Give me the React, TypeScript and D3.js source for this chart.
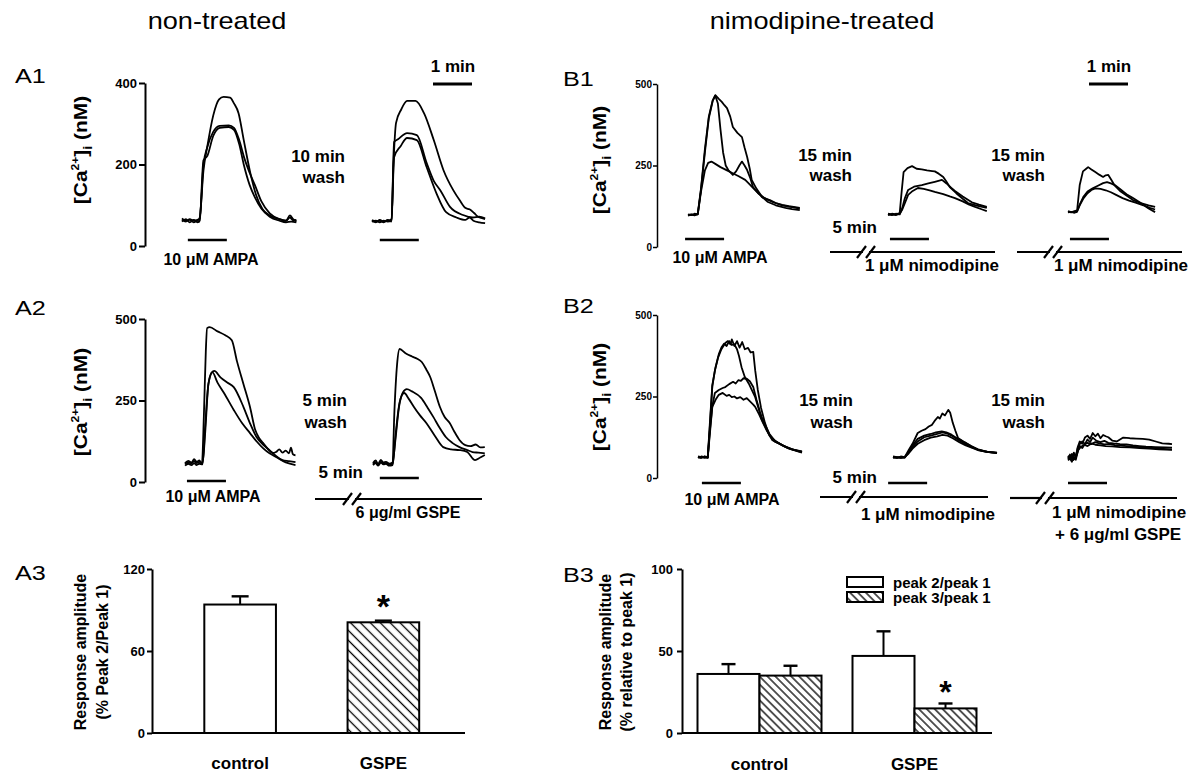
import React, { useEffect, useRef } from "react";
import * as d3 from "d3";

type Pt = [number, number];

// ---------- trace data: [seconds from segment start, [Ca2+]i nM] ----------
const a1Seg1: Pt[][] = [
  [[0,65],[6,60],[12,66],[18,62],[24,64],[27,68],[33,185],[39,245],[48,320],[57,360],[64,366],[74,364],[80,350],[87,326],[95,260],[105,180],[114,125],[124,90],[135,75],[150,66],[160,62],[166,70],[171,63],[176,64]],
  [[0,60],[6,66],[12,58],[18,64],[24,58],[27,62],[33,200],[39,243],[48,280],[58,295],[72,296],[80,290],[88,260],[96,215],[104,180],[112,150],[122,110],[135,80],[150,66],[160,62],[166,75],[171,66],[176,60]],
  [[0,68],[6,62],[12,64],[18,58],[24,62],[27,60],[33,210],[39,221],[48,270],[58,290],[72,292],[80,285],[88,250],[95,200],[104,150],[112,120],[122,92],[135,72],[150,62],[160,58],[168,60],[176,58]],
];
const a1Seg2: Pt[][] = [
  [[0,62],[6,58],[12,64],[18,60],[24,62],[30,66],[33,200],[37,302],[45,335],[54,356],[67,356],[80,326],[95,260],[110,186],[125,137],[135,112],[144,93],[150,90],[157,81],[163,72],[168,69],[174,66]],
  [[0,60],[6,62],[12,58],[18,62],[24,60],[30,62],[34,255],[40,262],[54,277],[69,272],[84,204],[95,160],[105,137],[120,96],[140,76],[155,70],[165,72],[174,68]],
  [[0,64],[6,60],[12,62],[18,58],[24,64],[30,60],[34,218],[44,245],[54,265],[69,260],[84,194],[99,130],[114,83],[130,70],[144,64],[150,70],[156,62],[165,58],[174,56]],
];
const a2Seg1: Pt[][] = [
  [[0,58],[5,65],[10,60],[14,70],[18,62],[22,66],[26,55],[29,200],[32,400],[34,472],[38,475],[50,462],[62,450],[72,435],[80,370],[90,300],[100,230],[108,160],[114,135],[120,120],[128,100],[135,89],[140,92],[145,100],[150,90],[155,96],[160,88],[163,105],[166,85],[170,82]],
  [[0,55],[5,60],[10,58],[14,64],[18,58],[22,62],[27,58],[31,150],[36,300],[41,335],[45,341],[55,320],[65,305],[75,291],[90,230],[100,180],[110,138],[120,115],[130,98],[140,80],[150,67],[160,64],[170,61]],
  [[0,50],[5,56],[10,52],[14,58],[18,52],[22,56],[27,54],[31,170],[36,300],[42,337],[50,305],[60,273],[75,221],[88,180],[100,150],[110,125],[120,104],[130,88],[140,77],[155,60],[170,52]],
];
const a2Seg2: Pt[][] = [
  [[0,58],[4,66],[8,55],[12,68],[16,60],[20,62],[25,56],[30,60],[33,220],[37,360],[41,408],[50,395],[60,385],[68,378],[75,368],[82,345],[88,322],[95,280],[103,230],[110,200],[118,181],[125,155],[133,129],[142,113],[150,110],[158,115],[165,106],[172,107]],
  [[0,55],[4,60],[8,52],[12,62],[16,56],[20,58],[25,52],[30,55],[34,120],[40,230],[46,275],[52,285],[60,278],[74,258],[84,228],[93,199],[102,168],[112,138],[122,120],[133,107],[145,98],[153,92],[162,90],[172,88]],
  [[0,52],[4,58],[8,50],[12,60],[16,54],[20,56],[25,50],[30,52],[35,150],[41,245],[48,273],[55,255],[63,230],[72,205],[82,181],[95,142],[108,107],[120,100],[133,98],[145,92],[157,67],[165,75],[172,83]],
];
const b1Seg1: Pt[][] = [
  [[0,98],[5,100],[10,97],[15,102],[20,180],[26,300],[32,400],[38,450],[42,466],[47,455],[52,445],[56,435],[60,426],[65,400],[69,368],[76,350],[83,337],[87,305],[91,276],[95,240],[98,206],[105,180],[114,153],[120,148],[126,144],[135,135],[145,129],[155,125],[165,122],[172,120]],
  [[0,100],[5,98],[10,102],[15,100],[20,175],[26,290],[32,395],[38,448],[42,464],[46,440],[50,360],[54,290],[58,250],[62,236],[69,221],[74,232],[79,250],[83,262],[87,250],[91,236],[96,210],[100,184],[108,165],[118,150],[130,138],[145,128],[160,122],[172,118]],
  [[0,96],[5,99],[10,98],[15,100],[20,170],[26,235],[31,258],[36,262],[42,255],[50,245],[60,235],[68,227],[78,217],[88,206],[96,190],[103,175],[113,155],[123,138],[135,128],[150,120],[160,116],[172,113]],
];
const b1Seg2: Pt[][] = [
  [[0,98],[6,102],[12,100],[18,104],[21,170],[24,230],[30,242],[37,248],[44,240],[52,238],[60,235],[68,233],[72,232],[78,225],[85,215],[90,200],[95,184],[105,165],[115,148],[123,135],[135,128],[145,123],[152,120]],
  [[0,100],[6,98],[12,102],[18,100],[22,120],[26,150],[31,175],[40,185],[52,190],[62,195],[72,200],[83,206],[90,195],[97,182],[103,172],[115,155],[129,137],[140,130],[152,123]],
  [[0,102],[6,100],[12,98],[18,102],[22,115],[27,140],[31,160],[38,172],[46,181],[55,178],[64,174],[72,169],[85,162],[95,155],[103,150],[115,140],[125,130],[134,123],[145,115],[152,110]],
];
const b1Seg3: Pt[][] = [
  [[0,108],[5,106],[10,110],[14,112],[18,190],[23,232],[28,240],[31,245],[36,238],[42,230],[48,222],[54,215],[58,220],[62,221],[67,205],[72,188],[80,172],[90,158],[100,144],[112,135],[124,128],[134,123]],
  [[0,106],[5,108],[10,105],[14,108],[18,130],[24,155],[30,170],[38,180],[46,188],[54,196],[60,199],[66,195],[72,190],[80,178],[90,162],[100,150],[112,135],[124,118],[134,107]],
  [[0,110],[5,107],[10,108],[14,110],[18,128],[24,150],[30,165],[36,175],[42,180],[50,178],[58,174],[66,168],[74,160],[84,150],[94,142],[104,136],[116,128],[126,120],[134,115]],
];
const b2Seg1: Pt[][] = [
  [[0,64],[5,62],[10,66],[15,62],[18,150],[22,280],[26,330],[31,370],[36,395],[42,414],[46,420],[50,410],[52,425],[56,405],[60,420],[64,400],[68,417],[72,395],[77,399],[81,385],[85,387],[88,330],[92,270],[97,215],[103,169],[108,140],[114,117],[120,110],[128,103],[138,92],[148,86],[155,82],[160,80]],
  [[0,66],[5,64],[10,62],[15,64],[18,160],[22,285],[27,340],[32,380],[36,400],[40,412],[44,405],[48,420],[52,408],[56,410],[60,395],[63,375],[67,340],[72,310],[78,290],[84,265],[88,248],[93,215],[98,180],[103,160],[110,130],[118,112],[130,100],[140,90],[150,84],[160,78]],
  [[0,62],[5,66],[10,64],[15,62],[18,140],[22,220],[26,261],[32,270],[38,276],[42,279],[48,288],[54,295],[58,290],[62,300],[66,298],[70,306],[75,305],[80,296],[85,279],[90,240],[95,205],[98,187],[104,160],[110,135],[118,115],[130,100],[145,88],[160,80]],
  [[0,64],[5,62],[10,66],[15,64],[18,130],[22,218],[27,240],[32,255],[38,261],[44,252],[48,255],[52,248],[56,250],[60,244],[65,248],[70,240],[75,245],[80,235],[85,225],[88,218],[94,195],[100,169],[106,145],[112,125],[120,112],[132,98],[145,88],[160,82]],
];
const b2Seg2: Pt[][] = [
  [[0,64],[6,62],[12,66],[18,64],[24,85],[30,105],[38,138],[44,145],[50,150],[55,158],[60,163],[64,175],[69,187],[72,182],[76,198],[80,192],[85,209],[88,200],[92,169],[96,145],[100,123],[110,110],[120,98],[131,86],[140,82],[150,79],[160,77]],
  [[0,62],[6,64],[12,62],[18,64],[24,80],[30,100],[38,120],[48,130],[58,135],[66,140],[75,143],[82,140],[90,133],[100,120],[111,108],[120,98],[131,88],[145,80],[160,77]],
  [[0,64],[6,62],[12,64],[18,62],[24,78],[30,95],[38,112],[48,125],[58,130],[68,135],[76,140],[84,136],[92,128],[102,115],[112,104],[122,94],[132,86],[145,80],[160,76]],
  [[0,66],[6,64],[12,62],[18,64],[24,75],[30,90],[38,105],[48,116],[58,124],[68,128],[76,132],[84,130],[92,122],[102,110],[112,100],[122,92],[132,85],[145,80],[160,78]],
];
const b2Seg3: Pt[][] = [
  [[0,60],[3,72],[6,56],[9,78],[12,62],[15,95],[18,112],[22,105],[26,124],[30,130],[34,120],[38,138],[42,128],[46,136],[50,122],[54,132],[58,128],[62,125],[68,115],[75,112],[85,124],[95,122],[105,121],[115,120],[125,118],[135,112],[145,106],[155,105],[160,104]],
  [[0,68],[3,60],[6,74],[9,58],[12,68],[15,92],[18,104],[22,112],[26,104],[30,118],[34,110],[38,124],[44,114],[50,110],[56,114],[62,108],[70,106],[80,104],[90,103],[100,100],[110,98],[120,96],[135,95],[150,94],[160,93]],
  [[0,54],[3,60],[6,50],[9,64],[12,56],[15,82],[18,98],[22,92],[26,104],[30,108],[36,104],[42,110],[48,106],[56,103],[64,105],[72,101],[82,99],[95,97],[110,95],[125,93],[140,90],[160,88]],
  [[0,58],[4,66],[8,55],[12,62],[16,86],[20,96],[25,102],[30,98],[36,106],[42,102],[50,100],[58,98],[68,97],[80,95],[95,94],[110,92],[125,90],[140,88],[160,86]],
];

// AMPA application onset (s from segment start), 1 min each
const a1Ampa = [9, 12];
const a2Ampa = [3, 10.5];
const b1Ampa = [-4.5, 3, 3];
const b2Ampa = [6, -7.5, 0];

// ---------- bar chart data ----------
const a3Groups = ["control", "GSPE"];
const a3Mean = [94, 81];
const a3Sem = [6, 1.2];

const b3Groups = ["control", "GSPE"];
const b3Series = ["peak 2/peak 1", "peak 3/peak 1"];
const b3Peak2 = [36, 47];
const b3Peak2Sem = [6, 15];
const b3Peak3 = [35, 15];
const b3Peak3Sem = [6, 3];

const PX_PER_MIN = 39;
const FONT = "'Liberation Sans', Arial, Helvetica, sans-serif";

type Sel = d3.Selection<any, unknown, null, undefined>;

function addText(g: Sel, x: number, y: number, str: string, size: number, opts: any = {}) {
  const sx = opts.sx ?? 1;
  const rot = opts.rotate ? ` rotate(${opts.rotate})` : "";
  return g.append("text")
    .attr("transform", `translate(${x},${y})${rot} scale(${sx},1)`)
    .attr("text-anchor", opts.anchor ?? "start")
    .attr("font-size", size)
    .attr("font-weight", opts.weight ?? "bold")
    .attr("fill", "#000")
    .text(str);
}

function caLabel(g: Sel, x: number, y: number) {
  const t = g.append("text")
    .attr("transform", `translate(${x},${y}) rotate(-90) scale(1.1,1)`)
    .attr("text-anchor", "middle")
    .attr("font-size", 19)
    .attr("font-weight", "bold");
  t.append("tspan").text("[Ca");
  t.append("tspan").attr("font-size", 11).attr("dy", -8).text("2+");
  t.append("tspan").attr("dy", 8).text("]");
  t.append("tspan").attr("font-size", 13).attr("dy", 5).text("i");
  t.append("tspan").attr("dy", -5).text(" (nM)");
}

// pre-incubation line with a "//" break
function breakLine(g: Sel, x0: number, x1: number, xb: number, y: number) {
  const s = g.append("g").attr("stroke", "#000").attr("stroke-width", 2.2).attr("fill", "none");
  s.append("line").attr("x1", x0).attr("x2", xb + 2).attr("y1", y).attr("y2", y);
  s.append("line").attr("x1", xb + 8).attr("x2", x1).attr("y1", y).attr("y2", y);
  [0, 9].forEach((o) => {
    s.append("line").attr("x1", xb + o - 4).attr("y1", y + 6).attr("x2", xb + o + 5).attr("y2", y - 6);
  });
}

interface Seg { x: number; traces: Pt[][]; ampa: number; barY: number; }
interface TracePanel {
  axisX: number; yZero: number; yTop: number; yMax: number; ticks: number[];
  tickFont: number; tickSize: number; tickPad: number; axisW: number;
  curve: d3.CurveFactory; segs: Seg[];
}

function drawTracePanel(svg: Sel, p: TracePanel) {
  const g = svg.append("g");
  const y = d3.scaleLinear().domain([0, p.yMax]).range([p.yZero, p.yTop]);
  const ax = g.append("g")
    .attr("transform", `translate(${p.axisX},0)`)
    .call(d3.axisLeft(y).tickValues(p.ticks).tickSize(p.tickSize).tickSizeOuter(0).tickPadding(p.tickPad).tickFormat(d3.format("d")));
  ax.select(".domain").attr("stroke-width", p.axisW);
  ax.selectAll(".tick line").attr("stroke-width", p.axisW);
  ax.selectAll("text").attr("font-size", p.tickFont).attr("font-weight", "bold").attr("font-family", FONT);

  p.segs.forEach((s) => {
    const x = d3.scaleLinear().domain([0, 60]).range([s.x, s.x + PX_PER_MIN]);
    const line = d3.line<Pt>().x((d) => x(d[0])).y((d) => y(d[1])).curve(p.curve);
    g.append("g").selectAll("path").data(s.traces).join("path")
      .attr("d", (d) => line(d))
      .attr("fill", "none").attr("stroke", "#000").attr("stroke-width", 1.8)
      .attr("stroke-linejoin", "round");
    g.append("line")
      .attr("x1", x(s.ampa)).attr("x2", x(s.ampa + 60))
      .attr("y1", s.barY).attr("y2", s.barY)
      .attr("stroke", "#000").attr("stroke-width", 2.6);
  });
}

function errBar(g: Sel, cx: number, yTop: number, yErr: number, half: number) {
  g.append("line").attr("x1", cx).attr("x2", cx).attr("y1", yTop).attr("y2", yErr).attr("stroke", "#000").attr("stroke-width", 2);
  g.append("line").attr("x1", cx - half).attr("x2", cx + half).attr("y1", yErr).attr("y2", yErr).attr("stroke", "#000").attr("stroke-width", 2.4);
}

export default function App() {
  const ref = useRef<SVGSVGElement>(null);

  useEffect(() => {
    const svg = d3.select(ref.current) as unknown as Sel;
    svg.selectAll("*").remove();
    svg.attr("font-family", FONT);

    // hatch patterns
    const defs = svg.append("defs");
    [["hatchA", 7], ["hatchB", 5.6]].forEach(([id, w]) => {
      const pat = defs.append("pattern").attr("id", id as string)
        .attr("patternUnits", "userSpaceOnUse")
        .attr("width", w as number).attr("height", w as number)
        .attr("patternTransform", "rotate(-45)");
      pat.append("rect").attr("width", w as number).attr("height", w as number).attr("fill", "#fff");
      pat.append("line").attr("x1", (w as number) / 2).attr("x2", (w as number) / 2)
        .attr("y1", 0).attr("y2", w as number).attr("stroke", "#000").attr("stroke-width", 1.3);
    });

    // titles and panel letters
    addText(svg, 217, 29, "non-treated", 23, { anchor: "middle", weight: "normal", sx: 1.18 });
    addText(svg, 822, 29, "nimodipine-treated", 23, { anchor: "middle", weight: "normal", sx: 1.18 });
    addText(svg, 15, 83, "A1", 21, { weight: "normal", sx: 1.2 });
    addText(svg, 15, 315, "A2", 21, { weight: "normal", sx: 1.2 });
    addText(svg, 15, 580, "A3", 21, { weight: "normal", sx: 1.2 });
    addText(svg, 563, 86, "B1", 21, { weight: "normal", sx: 1.2 });
    addText(svg, 563, 313, "B2", 21, { weight: "normal", sx: 1.2 });
    addText(svg, 563, 582, "B3", 21, { weight: "normal", sx: 1.2 });

    const aBase = { tickFont: 13, tickSize: 6, tickPad: 2, axisW: 2, curve: d3.curveMonotoneX, axisX: 145 };
    const bBase = { tickFont: 10, tickSize: 4, tickPad: 1, axisW: 1.5, curve: d3.curveLinear, axisX: 657 };

    // ---- A1 ----
    drawTracePanel(svg, { ...aBase, yZero: 246, yTop: 83, yMax: 400, ticks: [0, 200, 400],
      segs: [
        { x: 182, traces: a1Seg1, ampa: a1Ampa[0], barY: 240 },
        { x: 372, traces: a1Seg2, ampa: a1Ampa[1], barY: 240 },
      ] });
    caLabel(svg, 87, 150);
    addText(svg, 211, 265, "10 μM AMPA", 16, { anchor: "middle" });
    addText(svg, 345, 162, "10 min", 17, { anchor: "end" });
    addText(svg, 345, 183, "wash", 17, { anchor: "end" });
    addText(svg, 453, 72, "1 min", 17, { anchor: "middle" });
    svg.append("line").attr("x1", 433).attr("x2", 433 + PX_PER_MIN).attr("y1", 84).attr("y2", 84).attr("stroke", "#000").attr("stroke-width", 3);

    // ---- A2 ----
    drawTracePanel(svg, { ...aBase, yZero: 482, yTop: 319, yMax: 500, ticks: [0, 250, 500],
      segs: [
        { x: 185, traces: a2Seg1, ampa: a2Ampa[0], barY: 481 },
        { x: 373, traces: a2Seg2, ampa: a2Ampa[1], barY: 478 },
      ] });
    caLabel(svg, 87, 402);
    addText(svg, 213, 502, "10 μM AMPA", 16, { anchor: "middle" });
    addText(svg, 347, 406, "5 min", 17, { anchor: "end" });
    addText(svg, 347, 428, "wash", 17, { anchor: "end" });
    addText(svg, 363, 478, "5 min", 17, { anchor: "end" });
    breakLine(svg, 315, 482, 347, 499);
    addText(svg, 408, 518, "6 μg/ml GSPE", 16, { anchor: "middle" });

    // ---- B1 ----
    drawTracePanel(svg, { ...bBase, yZero: 247, yTop: 84, yMax: 500, ticks: [0, 250, 500],
      segs: [
        { x: 688, traces: b1Seg1, ampa: b1Ampa[0], barY: 239 },
        { x: 888, traces: b1Seg2, ampa: b1Ampa[1], barY: 239 },
        { x: 1068, traces: b1Seg3, ampa: b1Ampa[2], barY: 239 },
      ] });
    caLabel(svg, 606, 160);
    addText(svg, 720, 263, "10 μM AMPA", 16, { anchor: "middle" });
    addText(svg, 852, 161, "15 min", 17, { anchor: "end" });
    addText(svg, 852, 181, "wash", 17, { anchor: "end" });
    addText(svg, 1045, 161, "15 min", 17, { anchor: "end" });
    addText(svg, 1045, 181, "wash", 17, { anchor: "end" });
    addText(svg, 877, 233, "5 min", 17, { anchor: "end" });
    breakLine(svg, 830, 995, 861, 252);
    breakLine(svg, 1017, 1182, 1048, 252);
    addText(svg, 932, 271, "1 μM nimodipine", 17, { anchor: "middle" });
    addText(svg, 1121, 271, "1 μM nimodipine", 17, { anchor: "middle" });
    addText(svg, 1109, 72, "1 min", 17, { anchor: "middle" });
    svg.append("line").attr("x1", 1089).attr("x2", 1089 + PX_PER_MIN).attr("y1", 84).attr("y2", 84).attr("stroke", "#000").attr("stroke-width", 3);

    // ---- B2 ----
    drawTracePanel(svg, { ...bBase, yZero: 478, yTop: 315, yMax: 500, ticks: [0, 250, 500],
      segs: [
        { x: 698, traces: b2Seg1, ampa: b2Ampa[0], barY: 483 },
        { x: 893, traces: b2Seg2, ampa: b2Ampa[1], barY: 483 },
        { x: 1068, traces: b2Seg3, ampa: b2Ampa[2], barY: 483 },
      ] });
    caLabel(svg, 606, 397);
    addText(svg, 732, 505, "10 μM AMPA", 16, { anchor: "middle" });
    addText(svg, 853, 406, "15 min", 17, { anchor: "end" });
    addText(svg, 853, 428, "wash", 17, { anchor: "end" });
    addText(svg, 1045, 406, "15 min", 17, { anchor: "end" });
    addText(svg, 1045, 428, "wash", 17, { anchor: "end" });
    addText(svg, 877, 483, "5 min", 17, { anchor: "end" });
    breakLine(svg, 820, 988, 851, 497);
    breakLine(svg, 1010, 1177, 1040, 498);
    addText(svg, 928, 520, "1 μM nimodipine", 17, { anchor: "middle" });
    addText(svg, 1052, 518, "1 μM nimodipine", 17);
    addText(svg, 1055, 540, "+  6 μg/ml GSPE", 17);

    // ---- A3 bar chart ----
    {
      const g = svg.append("g");
      const y = d3.scaleLinear().domain([0, 120]).range([733, 569]);
      const x = d3.scaleBand().domain(a3Groups).range([168.5, 455]).paddingInner(0.5).paddingOuter(0.25);
      const ax = g.append("g").attr("transform", "translate(152,0)")
        .call(d3.axisLeft(y).tickValues([0, 60, 120]).tickSize(5).tickSizeOuter(0).tickPadding(2));
      ax.select(".domain").attr("stroke-width", 2);
      ax.selectAll(".tick line").attr("stroke-width", 2);
      ax.selectAll("text").attr("font-size", 13).attr("font-weight", "bold").attr("font-family", FONT);
      g.selectAll(".bar").data(a3Groups).join("rect").attr("class", "bar")
        .attr("x", (d) => x(d)!).attr("width", x.bandwidth())
        .attr("y", (d, i) => y(a3Mean[i])).attr("height", (d, i) => y(0) - y(a3Mean[i]))
        .attr("fill", (d, i) => (i === 0 ? "#fff" : "url(#hatchA)"))
        .attr("stroke", "#000").attr("stroke-width", 2);
      a3Groups.forEach((d, i) => {
        errBar(g, x(d)! + x.bandwidth() / 2, y(a3Mean[i]), y(a3Mean[i] + a3Sem[i]), 8.5);
        addText(g, x(d)! + x.bandwidth() / 2, 769, d, 17, { anchor: "middle" });
      });
      g.append("line").attr("x1", 152).attr("x2", 465).attr("y1", y(0)).attr("y2", y(0)).attr("stroke", "#000").attr("stroke-width", 2);
      addText(g, x("GSPE")! + x.bandwidth() / 2, 618, "*", 34, { anchor: "middle" });
      addText(g, 86, 652, "Response amplitude", 16, { anchor: "middle", rotate: -90 });
      addText(g, 108, 652, "(% Peak 2/Peak 1)", 16, { anchor: "middle", rotate: -90 });
    }

    // ---- B3 grouped bar chart ----
    {
      const g = svg.append("g");
      const y = d3.scaleLinear().domain([0, 100]).range([733, 569]);
      const x0 = d3.scaleBand().domain(b3Groups).range([682, 992]).paddingInner(0.2).paddingOuter(0.1);
      const x1 = d3.scaleBand().domain(b3Series).range([0, x0.bandwidth()]);
      const ax = g.append("g").attr("transform", "translate(682,0)")
        .call(d3.axisLeft(y).tickValues([0, 50, 100]).tickSize(5).tickSizeOuter(0).tickPadding(4));
      ax.select(".domain").attr("stroke-width", 2);
      ax.selectAll(".tick line").attr("stroke-width", 2);
      ax.selectAll("text").attr("font-size", 13).attr("font-weight", "bold").attr("font-family", FONT);
      const means = [b3Peak2, b3Peak3];
      const sems = [b3Peak2Sem, b3Peak3Sem];
      b3Groups.forEach((grp, gi) => {
        b3Series.forEach((s, si) => {
          const bx = x0(grp)! + x1(s)!;
          const v = means[si][gi];
          g.append("rect").attr("x", bx).attr("width", x1.bandwidth())
            .attr("y", y(v)).attr("height", y(0) - y(v))
            .attr("fill", si === 0 ? "#fff" : "url(#hatchB)")
            .attr("stroke", "#000").attr("stroke-width", 2);
          errBar(g, bx + x1.bandwidth() / 2, y(v), y(v + sems[si][gi]), 7);
        });
        addText(g, x0(grp)! + x0.bandwidth() / 2, 770, grp, 17, { anchor: "middle" });
      });
      g.append("line").attr("x1", 682).attr("x2", 992).attr("y1", y(0)).attr("y2", y(0)).attr("stroke", "#000").attr("stroke-width", 2);
      addText(g, x0("GSPE")! + x1("peak 3/peak 1")! + x1.bandwidth() / 2, 703, "*", 32, { anchor: "middle" });
      // legend
      b3Series.forEach((s, si) => {
        g.append("rect").attr("x", 847).attr("y", 577 + si * 15).attr("width", 36).attr("height", 10)
          .attr("fill", si === 0 ? "#fff" : "url(#hatchB)").attr("stroke", "#000").attr("stroke-width", 2);
        addText(g, 893, 588 + si * 15, s, 15);
      });
      addText(g, 611, 652, "Response amplitude", 16, { anchor: "middle", rotate: -90 });
      addText(g, 632, 652, "(% relative to peak 1)", 16, { anchor: "middle", rotate: -90 });
    }
  }, []);

  return (
    <svg ref={ref} width={1200} height={778}
      style={{ position: "absolute", left: 0, top: 0, background: "#fff" }} />
  );
}
